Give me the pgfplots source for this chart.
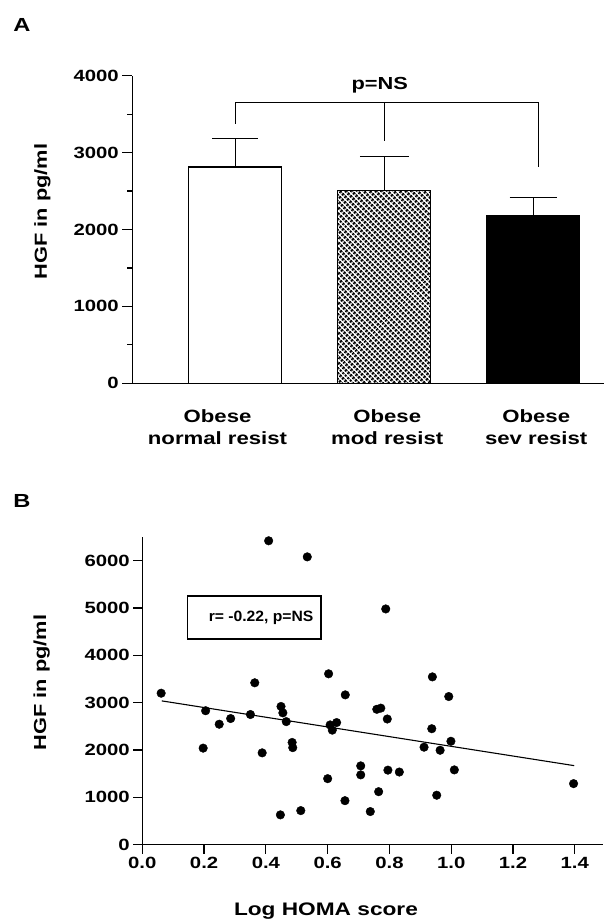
\documentclass[border=0pt]{standalone}
\usepackage{fontspec}
\setmainfont{Liberation Sans}[FakeStretch=1.25]
\newfontfamily\boxfont{Liberation Sans}[FakeStretch=1.05]
\usepackage{pgfplots}
\pgfplotsset{compat=1.18}
\usetikzlibrary{patterns.meta}
\newcommand\tickfont{\fontsize{16.3}{19}\selectfont\bfseries}
\newcommand\catfont{\fontsize{17.8}{22}\selectfont\bfseries}
\newcommand\labfont{\fontsize{17.5}{21}\selectfont\bfseries}
\newcommand\xlabfont{\fontsize{18.2}{21}\selectfont\bfseries}
\newcommand\panfont{\fontsize{19}{22}\selectfont\bfseries}

\begin{document}
\begin{tikzpicture}[x=1bp,y=1bp]
\useasboundingbox (0,0) rectangle (604,923);
\node[font=\panfont] at (22,898) {A};
\node[font=\panfont] at (22,422) {B};

% ---------------- Panel A ----------------
\begin{axis}[
  at={(132.3bp,539.7bp)}, anchor=south west, scale only axis,
  width=471.7bp, height=307.6bp,
  xmin=0.309, xmax=3.475, ymin=0, ymax=4000,
  axis x line*=bottom, axis y line*=left,
  axis line style={line width=1.2bp, -},
  tick style={line width=1.2bp, black},
  tick align=outside,
  major tick length=10bp, minor tick length=5bp,
  ytick={0,1000,2000,3000,4000},
  minor ytick={500,1500,2500,3500},
  xtick={0.881,2.02,3.02},
  xticklabels={{Obese\\normal resist},{Obese\\mod resist},{Obese\\sev resist}},
  major x tick style={draw=none},
  xticklabel style={align=center, font=\catfont, yshift=-13bp},
  yticklabel style={font=\tickfont},
  /pgf/number format/assume math mode=true,
  /pgf/number format/set thousands separator={},
  scaled y ticks=false,
  ylabel={HGF in pg/ml},
  ylabel style={font=\labfont, at={(axis description cs:-0.1906,0.558)}, anchor=center},
  clip=false,
]
\addplot[ybar, bar width=0.624, bar shift=0pt, fill=white, draw=black, line width=1.1bp]
  coordinates {(1,2813)};
\addplot[ybar, bar width=0.624, bar shift=0pt, draw=black, line width=1.1bp,
  pattern={Hatch[angle=45,distance=3.6bp,line width=1.4bp]}]
  coordinates {(2,2510)};
\addplot[ybar, bar width=0.624, bar shift=0pt, fill=black, draw=black, line width=1.1bp]
  coordinates {(3,2186)};
% error bars (mean to mean+SE) with caps
\addplot[black, line width=1.1bp, mark=none] coordinates {(1,2813) (1,3182)};
\addplot[black, line width=1.1bp, mark=none] coordinates {(0.846,3182) (1.154,3182)};
\addplot[black, line width=1.1bp, mark=none] coordinates {(2,2510) (2,2952)};
\addplot[black, line width=1.1bp, mark=none] coordinates {(1.836,2952) (2.164,2952)};
\addplot[black, line width=1.1bp, mark=none] coordinates {(3,2186) (3,2416)};
\addplot[black, line width=1.1bp, mark=none] coordinates {(2.842,2416) (3.158,2416)};
% significance bracket
\addplot[black, line width=1bp, mark=none] coordinates {(1,3377) (1,3645) (3.037,3645) (3.037,2813)};
\addplot[black, line width=1bp, mark=none] coordinates {(2,3645) (2,3156)};
\node[font=\labfont] at (axis cs:1.97,3874) {p=NS};
\end{axis}

% ---------------- Panel B ----------------
\begin{axis}[
  at={(142.3bp,78.3bp)}, anchor=south west, scale only axis,
  width=460.3bp, height=307.7bp,
  xmin=0, xmax=1.49, ymin=0, ymax=6500,
  axis x line*=bottom, axis y line*=left,
  axis line style={line width=1.2bp, -},
  tick style={line width=1.2bp, black},
  tick align=outside,
  major tick length=9bp,
  xtick={0,0.2,0.4,0.6,0.8,1.0,1.2,1.4},
  ytick={0,1000,2000,3000,4000,5000,6000},
  xticklabel style={font=\tickfont, /pgf/number format/.cd, fixed, fixed zerofill, precision=1},
  yticklabel style={font=\tickfont},
  /pgf/number format/assume math mode=true,
  /pgf/number format/set thousands separator={},
  scaled y ticks=false, scaled x ticks=false,
  xlabel={Log HOMA score},
  xlabel style={font=\xlabfont, at={(axis description cs:0.399,-0.215)}, anchor=center},
  ylabel={HGF in pg/ml},
  ylabel style={font=\labfont, at={(axis description cs:-0.2185,0.527)}, anchor=center},
  clip=false,
]
\addplot[black, line width=1.1bp, mark=none] coordinates {(0.063,3038) (1.398,1670)};
\addplot[only marks, mark=*, mark size=4.3bp, black] coordinates {
(0.061,3200) (0.409,6420) (0.534,6080) (0.205,2830) (0.197,2040)
(0.249,2545) (0.286,2665) (0.350,2750) (0.364,3420) (0.388,1940)
(0.449,2920) (0.455,2785) (0.466,2600) (0.485,2160) (0.487,2050)
(0.447,630) (0.513,720) (0.603,3610) (0.657,3165) (0.608,2530)
(0.615,2420) (0.629,2580) (0.600,1395) (0.656,930) (0.788,4980)
(0.759,2860) (0.772,2885) (0.793,2655) (0.707,1665) (0.707,1475)
(0.795,1575) (0.832,1535) (0.765,1120) (0.738,700) (0.939,3545)
(0.992,3130) (0.937,2450) (0.912,2060) (0.964,1995) (0.999,2185)
(1.010,1580) (0.953,1045) (1.396,1290)
};
\node[draw, line width=1.5bp, minimum width=133.4bp, minimum height=43bp, inner sep=0pt,
  font=\boxfont\fontsize{15}{18}\selectfont\bfseries] at (axis cs:0.362,4800) {\hspace*{14bp}r= -0.22, p=NS};
\end{axis}
\end{tikzpicture}
\end{document}
